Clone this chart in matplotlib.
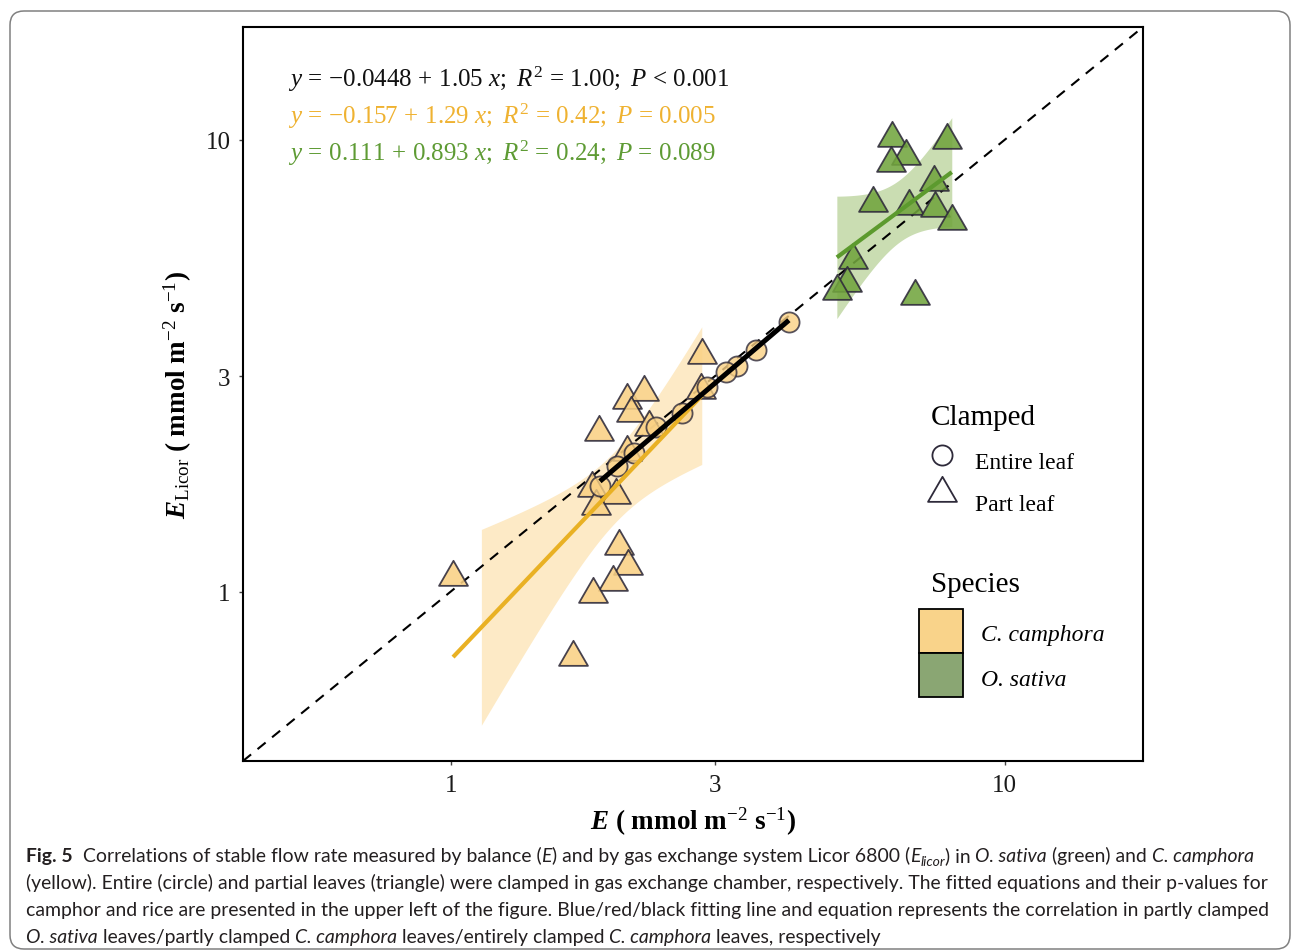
import numpy as np
import matplotlib
matplotlib.use('Agg')
import matplotlib.pyplot as plt
from matplotlib.lines import Line2D
from matplotlib.patches import Rectangle, FancyBboxPatch
from matplotlib.path import Path
from matplotlib.font_manager import FontProperties
from math import lgamma

plt.rcParams['font.family'] = 'Liberation Serif'
plt.rcParams['mathtext.fontset'] = 'custom'
plt.rcParams['mathtext.rm'] = 'Liberation Serif'
plt.rcParams['mathtext.it'] = 'Liberation Serif:italic'
plt.rcParams['mathtext.bf'] = 'Liberation Serif:bold:italic'

# ---- data ----
# O. sativa, part leaf
sat_part_x = [6.26, 7.86, 6.63, 6.23, 5.78, 7.45, 6.71, 7.48, 8.03, 5.32, 5.19, 4.98, 6.88]
sat_part_y = [10.1, 10.0, 9.22, 8.90, 7.26, 8.08, 7.15, 7.08, 6.60, 5.41, 4.82, 4.63, 4.51]
# C. camphora, part leaf
cam_part_x = [1.01, 1.66, 2.01, 2.09, 1.96, 1.81, 1.80, 1.99, 1.83, 1.85, 2.08, 2.23, 2.12,
              2.28, 2.08, 2.83, 2.84]
cam_part_y = [1.08, 0.716, 1.26, 1.14, 1.05, 0.99, 1.70, 1.64, 1.55, 2.26, 2.66, 2.76, 2.49,
              2.31, 2.04, 2.80, 3.34]
# C. camphora, entire leaf
cam_ent_x = [4.08, 3.56, 3.29, 3.14, 2.90, 2.62, 2.35, 2.14, 2.00, 1.86]
cam_ent_y = [3.95, 3.43, 3.16, 3.07, 2.84, 2.49, 2.31, 2.03, 1.90, 1.71]

limits = (0.5, 15)          # scale limits, axes get a 5% expansion (log space)
ticks = [1, 3, 10]
tick_labels = ['1', '3', '10']
equations = [
    r'$y\,=\,{-}0.0448\,+\,1.05\ x;\ R^2\,=\,1.00;\ P\,<\,0.001$',
    r'$y\,=\,{-}0.157\,+\,1.29\ x;\ R^2\,=\,0.42;\ P\,=\,0.005$',
    r'$y\,=\,0.111\,+\,0.893\ x;\ R^2\,=\,0.24;\ P\,=\,0.089$',
]
eq_colors = ['#111111', '#EFB231', '#5E9B34']

YEL = '#FAD184'
GRN = '#72A53E'
EDGE = '#2E2A3A'

W, H = 1293, 953
fig = plt.figure(figsize=(W / 100, H / 100), dpi=100)


def fx(px):
    return px / W


def fy(py):
    return 1 - py / H


ax = fig.add_axes([fx(243), fy(762), fx(1143) - fx(243), fy(28) - fy(762)])
ax.set_xscale('log')
ax.set_yscale('log')
lo_l, hi_l = np.log10(limits)
pad = 0.05 * (hi_l - lo_l)
ax.set_xlim(10 ** (lo_l - pad), 10 ** (hi_l + pad))
ax.set_ylim(10 ** (lo_l - pad), 10 ** (hi_l + pad))


def t975(df):
    # 97.5% quantile of Student t from a numeric CDF
    ts = np.linspace(0, 10, 20001)
    c = np.exp(lgamma((df + 1) / 2) - lgamma(df / 2)) / np.sqrt(df * np.pi)
    pdf = c * (1 + ts ** 2 / df) ** (-(df + 1) / 2)
    cdf = 0.5 + np.concatenate([[0], np.cumsum((pdf[1:] + pdf[:-1]) / 2 * np.diff(ts))])
    return np.interp(0.975, cdf, ts)


def lm_log(x, y, n=80):
    lx, ly = np.log10(x), np.log10(y)
    b1, b0 = np.polyfit(lx, ly, 1)
    g = np.linspace(lx.min(), lx.max(), n)
    fit = b0 + b1 * g
    resid = ly - (b0 + b1 * lx)
    k = len(lx)
    s = np.sqrt(np.sum(resid ** 2) / (k - 2))
    se = s * np.sqrt(1 / k + (g - lx.mean()) ** 2 / np.sum((lx - lx.mean()) ** 2))
    t = t975(k - 2)
    return 10 ** g, 10 ** fit, 10 ** (fit - t * se), 10 ** (fit + t * se)


cx, cfit, clo, chi = lm_log(np.array(cam_part_x), np.array(cam_part_y))
gx, gfit, glo, ghi = lm_log(np.array(sat_part_x), np.array(sat_part_y))
ex, efit, _, _ = lm_log(np.array(cam_ent_x), np.array(cam_ent_y))

# ribbons: values outside the scale limits are dropped, as ggplot does
ok = (clo >= limits[0]) & (chi <= limits[1])
ax.fill_between(cx[ok], clo[ok], chi[ok], color='#FDEAC6', lw=0, zorder=1)
ok = (glo >= limits[0]) & (ghi <= limits[1])
ax.fill_between(gx[ok], glo[ok], ghi[ok], color='#CADDB2', lw=0, zorder=1)

ax.axline((1, 1), (10, 10), color='black', lw=1.5, ls=(0, (5, 4)), zorder=2)

tv = [(0, 0.577), (-0.5, -0.289), (0.5, -0.289), (0, 0.577)]
tri = Path(tv, [Path.MOVETO, Path.LINETO, Path.LINETO, Path.CLOSEPOLY])
ax.plot(sat_part_x, sat_part_y, ls='none', marker=tri, ms=24, mfc=GRN, mec=EDGE,
        mew=1.3, alpha=0.88, zorder=3)
ax.plot(cam_part_x, cam_part_y, ls='none', marker=tri, ms=24, mfc=YEL, mec=EDGE,
        mew=1.3, alpha=0.88, zorder=3)
ax.plot(cam_ent_x, cam_ent_y, ls='none', marker='o', ms=14.5, mfc=YEL, mec=EDGE,
        mew=1.3, alpha=0.8, zorder=3)

ax.plot(cx, cfit, color='#E9B124', lw=3, zorder=4, solid_capstyle='butt')
ax.plot(gx, gfit, color='#5C9A2E', lw=3, zorder=4, solid_capstyle='butt')
ax.plot(ex, efit, color='black', lw=3.6, zorder=4, solid_capstyle='butt')

ax.set_xticks(ticks)
ax.set_xticklabels(tick_labels)
ax.set_yticks(ticks)
ax.set_yticklabels(tick_labels)
ax.minorticks_off()
ax.tick_params(direction='out', length=3, width=1, color='#444444', labelsize=18,
               labelcolor='#1a1a1a', pad=6)
for sp in ax.spines.values():
    sp.set_linewidth(1.5)

for i, (eq, col) in enumerate(zip(equations, eq_colors)):
    fig.text(fx(288), fy(87 + 37 * i), eq, color=col, fontsize=18, va='baseline', ha='left')

# axis labels
fig.text(fx(693), fy(822), r'$\mathbf{E}$ ( mmol m$^{-2}$ s$^{-1}$)', fontsize=19.5,
         fontweight='bold', ha='center', va='center')
fig.text(fx(178), fy(395), r'$\mathbf{E}_{\mathrm{Licor}}$ ( mmol m$^{-2}$ s$^{-1}$)',
         fontsize=19.5, fontweight='bold', ha='center', va='center', rotation=90)

# legends
fig.text(fx(931), fy(418), 'Clamped', fontsize=21, ha='left', va='center')
fig.add_artist(Line2D([fx(942)], [fy(456)], transform=fig.transFigure, marker='o', ms=14.5,
                      mfc='none', mec=EDGE, mew=1.3, ls='none'))
fig.add_artist(Line2D([fx(942)], [fy(494)], transform=fig.transFigure, marker=tri, ms=24,
                      mfc='none', mec=EDGE, mew=1.3, ls='none'))
fig.text(fx(975), fy(464), 'Entire leaf', fontsize=17, ha='left', va='center')
fig.text(fx(975), fy(506), 'Part leaf', fontsize=17, ha='left', va='center')

fig.text(fx(931), fy(585), 'Species', fontsize=21, ha='left', va='center')
species = ['C. camphora', 'O. sativa']
species_colors = ['#F9D38A', '#8AA673']
for i, (sp_name, col) in enumerate(zip(species, species_colors)):
    top = 610 + 44 * i
    fig.add_artist(Rectangle((fx(919), fy(top + 44)), fx(44), 44 / H, transform=fig.transFigure,
                             fc=col, ec='black', lw=1.3))
    fig.text(fx(981), fy(top + 26), sp_name, fontsize=17, style='italic', ha='left', va='center')

# page frame
fig.add_artist(FancyBboxPatch((0.10, 0.03), 12.80, 9.38, boxstyle='round,pad=0,rounding_size=0.14',
                              transform=fig.dpi_scale_trans, fc='none', ec='#808080', lw=1.1))

# caption
renderer = fig.canvas.get_renderer()
CAP_FONT = 'Lato'
cap_lines = [
    [('Fig. 5', 'normal', 'bold', 1, 0),
     ('  Correlations of stable flow rate measured by balance (', 'normal', 'normal', 1, 0),
     ('E', 'italic', 'normal', 1, 0),
     (') and by gas exchange system Licor 6800 (', 'normal', 'normal', 1, 0),
     ('E', 'italic', 'normal', 1, 0),
     ('licor', 'italic', 'normal', 0.72, -4),
     (') in ', 'normal', 'normal', 1, 0),
     ('O. sativa', 'italic', 'normal', 1, 0),
     (' (green) and ', 'normal', 'normal', 1, 0),
     ('C. camphora', 'italic', 'normal', 1, 0)],
    [('(yellow). Entire (circle) and partial leaves (triangle) were clamped in gas exchange '
      'chamber, respectively. The fitted equations and their p-values for', 'normal', 'normal', 1, 0)],
    [('camphor and rice are presented in the upper left of the figure. Blue/red/black fitting '
      'line and equation represents the correlation in partly clamped', 'normal', 'normal', 1, 0)],
    [('O. sativa', 'italic', 'normal', 1, 0),
     (' leaves/partly clamped ', 'normal', 'normal', 1, 0),
     ('C. camphora', 'italic', 'normal', 1, 0),
     (' leaves/entirely clamped ', 'normal', 'normal', 1, 0),
     ('C. camphora', 'italic', 'normal', 1, 0),
     (' leaves, respectively', 'normal', 'normal', 1, 0)],
]


def seg_width(s, fp):
    w1 = renderer.get_text_width_height_descent('|' + s + '|', fp, False)[0]
    w0 = renderer.get_text_width_height_descent('||', fp, False)[0]
    return w1 - w0


base = FontProperties(family=CAP_FONT, size=10)
cap_size = 10 * 1239 / seg_width(cap_lines[1][0][0], base)

for li, line in enumerate(cap_lines):
    x = 26.0
    yb = 862 + 27 * li
    for s, style, weight, scale, dy in line:
        fp = FontProperties(family=CAP_FONT, size=cap_size * scale, style=style, weight=weight)
        fig.text(fx(x), fy(yb - dy), s, fontproperties=fp, color='#231F20',
                 ha='left', va='baseline')
        x += seg_width(s, fp)

fig.savefig('out.png', dpi=100)
